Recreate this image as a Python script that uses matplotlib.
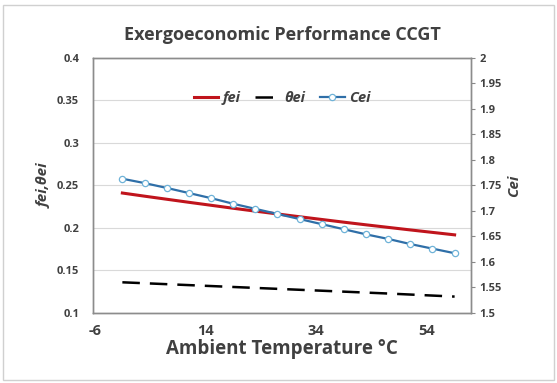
import matplotlib.pyplot as plt
from matplotlib.patches import Rectangle

# Ambient temperature (°C) and the three indicators
temp = [-1, 3, 7, 11, 15, 19, 23, 27, 31, 35, 39, 43, 47, 51, 55, 59]
fei = [0.241, 0.2373, 0.2337, 0.2301, 0.2266, 0.2231, 0.2197, 0.2164,
       0.2131, 0.2099, 0.2067, 0.2036, 0.2006, 0.1976, 0.1947, 0.1918]
theta_ei = [0.136, 0.1349, 0.1338, 0.1327, 0.1316, 0.1305, 0.1294, 0.1283,
            0.1272, 0.1261, 0.1250, 0.1239, 0.1228, 0.1216, 0.1204, 0.1192]
cei = [1.763, 1.7545, 1.745, 1.735, 1.725, 1.714, 1.704, 1.694,
       1.684, 1.674, 1.664, 1.654, 1.645, 1.635, 1.626, 1.617]

xticks = [-6, 14, 34, 54]
left_ticks = [0.1, 0.15, 0.2, 0.25, 0.3, 0.35, 0.4]
right_ticks = [1.5, 1.55, 1.6, 1.65, 1.7, 1.75, 1.8, 1.85, 1.9, 1.95, 2]

plt.rcParams['font.family'] = ['Open Sans', 'DejaVu Sans']

fig = plt.figure(figsize=(5.57, 3.83), dpi=100)
fig.patches.append(Rectangle((0.005, 0.008), 0.99, 0.978, transform=fig.transFigure,
                             fill=False, edgecolor='#d0d0d0', linewidth=1))

ax = fig.add_axes([0.167, 0.183, 0.679, 0.666])
ax2 = ax.twinx()

gray = '#404040'
ax.set_xlim(-6.3, 62)
ax.set_ylim(0.1, 0.4)
ax2.set_ylim(1.5, 2)
ax.set_xticks(xticks)
ax.set_yticks(left_ticks)
ax2.set_yticks(right_ticks)
ax.set_xticklabels([str(t) for t in xticks], fontsize=10.5, fontweight='bold', color=gray)
ax.set_yticklabels([f'{t:g}' for t in left_ticks], fontsize=8, fontweight='bold', color=gray)
ax2.set_yticklabels([f'{t:g}' for t in right_ticks], fontsize=8, fontweight='bold', color=gray)
ax.tick_params(axis='x', length=0, pad=8)
ax.tick_params(axis='y', length=0, pad=10)
ax2.tick_params(axis='y', length=3, color='#888888', pad=3)

ax.grid(axis='y', color='#d9d9d9', linewidth=0.8)
ax.set_axisbelow(True)
for a in (ax, ax2):
    for s in a.spines.values():
        s.set_color('#8c8c8c')
        s.set_linewidth(1)

l1, = ax.plot(temp, fei, color='#c0141c', linewidth=2.2, label='fei')
l2, = ax.plot(temp, theta_ei, color='black', linewidth=1.8, dashes=(7, 4), label='θei')
l3, = ax2.plot(temp, cei, color='#2f6fa8', linewidth=1.6, marker='o', markersize=4.5,
               markerfacecolor='white', markeredgecolor='#6fb3d8', markeredgewidth=0.9,
               label='Cei')

ax.legend(handles=[l1, l2, l3], loc='upper center', bbox_to_anchor=(0.5, 0.92), ncol=3,
          frameon=False, prop={'weight': 'bold', 'style': 'italic', 'size': 10.5},
          handlelength=1.7, columnspacing=1.0, handletextpad=0.3, labelcolor=gray)

ax.set_title('Exergoeconomic Performance CCGT', fontsize=13, fontweight='bold',
             color=gray, pad=13)
ax.set_xlabel('Ambient Temperature °C', fontsize=13.5, fontweight='bold', color=gray, labelpad=1)
ax.set_ylabel('fei,θei', fontsize=11, fontweight='bold', style='italic', color=gray, labelpad=4)
ax2.set_ylabel('Cei', fontsize=11, fontweight='bold', style='italic', color=gray, labelpad=4)

fig.savefig('out.png', dpi=100)
